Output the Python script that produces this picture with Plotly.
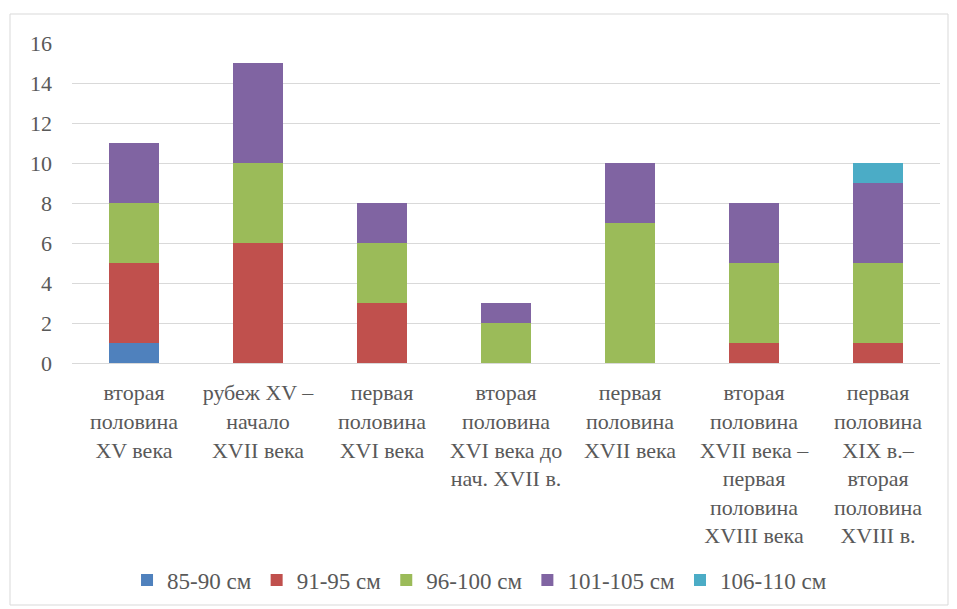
import plotly.graph_objects as go

categories = [
    "вторая<br>половина<br>XV века",
    "рубеж XV –<br>начало<br>XVII века",
    "первая<br>половина<br>XVI века",
    "вторая<br>половина<br>XVI века до<br>нач. XVII в.",
    "первая<br>половина<br>XVII века",
    "вторая<br>половина<br>XVII века –<br>первая<br>половина<br>XVIII века",
    "первая<br>половина<br>XIX в.–<br>вторая<br>половина<br>XVIII в.",
]
s_85_90 = [1, 0, 0, 0, 0, 0, 0]
s_91_95 = [4, 6, 3, 0, 0, 1, 1]
s_96_100 = [3, 4, 3, 2, 7, 4, 4]
s_101_105 = [3, 5, 2, 1, 3, 3, 4]
s_106_110 = [0, 0, 0, 0, 0, 0, 1]
series_names = ["85-90 см", "91-95 см", "96-100 см", "101-105 см", "106-110 см"]
y_ticks = [0, 2, 4, 6, 8, 10, 12, 14, 16]

colors = ["#4F81BD", "#C0504D", "#9BBB59", "#8064A2", "#4BACC6"]
series = [s_85_90, s_91_95, s_96_100, s_101_105, s_106_110]

FONT = "Liberation Serif, Times New Roman, serif"

fig = go.Figure()
for name, vals, col in zip(series_names, series, colors):
    fig.add_trace(go.Bar(
        x=categories, y=vals, name=name,
        marker=dict(color=col, line=dict(width=0)),
        width=0.4,
    ))

fig.update_layout(
    barmode="stack",
    width=957, height=609,
    margin=dict(l=72, r=17, t=43, b=246, autoexpand=False),
    paper_bgcolor="white", plot_bgcolor="white",
    font=dict(family=FONT, size=22, color="#595959"),
    showlegend=True,
    legend=dict(
        orientation="h", x=0.4695, xanchor="center", y=-0.678, yanchor="middle",
        font=dict(family=FONT, size=23, color="#595959"),
        traceorder="normal", itemwidth=30,
    ),
    xaxis=dict(
        showgrid=False, showline=True, linecolor="#D9D9D9", linewidth=1,
        tickfont=dict(family=FONT, size=22, color="#595959"),
        ticks="", ticklabelstandoff=10, automargin=False,
    ),
    yaxis=dict(
        range=[0, 16], tickvals=y_ticks, showgrid=True, gridcolor="#D9D9D9",
        gridwidth=1, zeroline=False, showline=False,
        tickfont=dict(family=FONT, size=22, color="#595959"),
        ticks="", ticklabelstandoff=19, automargin=False,
    ),
    shapes=[dict(
        type="rect", xref="paper", yref="paper",
        x0=(10 - 72) / 868, x1=(948 - 72) / 868,
        y0=(363 - 605) / 320, y1=(363 - 14) / 320,
        line=dict(color="#D9D9D9", width=1), fillcolor="rgba(0,0,0,0)", layer="below",
    )],
)

fig.write_html(
    "out.html",
    config={"displayModeBar": False},
    post_script="document.body.style.margin='0';document.body.style.padding='0';",
)
